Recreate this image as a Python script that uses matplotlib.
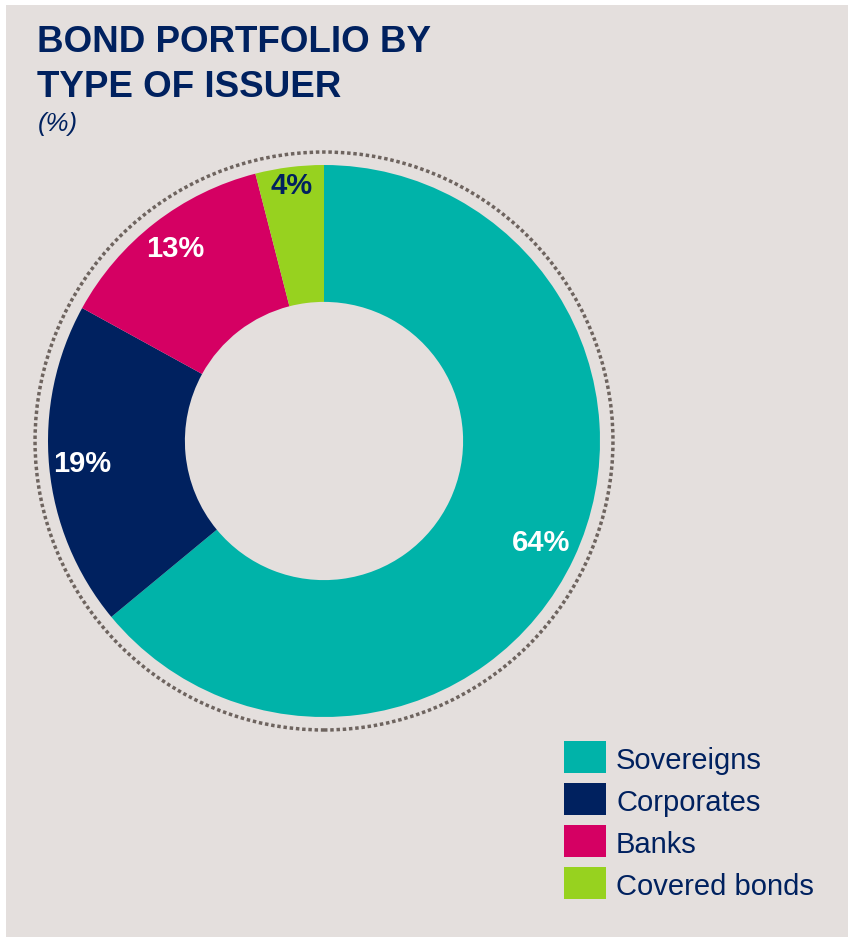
import numpy as np
import matplotlib
matplotlib.use("Agg")
import matplotlib.pyplot as plt
from matplotlib.patches import Rectangle, Circle

# Data
categories = ["Sovereigns", "Corporates", "Banks", "Covered bonds"]
shares = [64, 19, 13, 4]
colors = ["#00B3A9", "#00215F", "#D50063", "#97D21F"]
label_colors = ["white", "white", "white", "#00215F"]
label_radius = [0.87, 0.88, 0.88, 0.93]

title_lines = ["BOND PORTFOLIO BY", "TYPE OF ISSUER"]
subtitle = "(%)"

navy = "#00215F"
bg = "#E4DFDD"
W, H = 849, 939
DPI = 100

plt.rcParams["font.family"] = ["Liberation Sans", "DejaVu Sans"]

fig = plt.figure(figsize=(W / DPI, H / DPI), dpi=DPI)
fig.patch.set_facecolor("white")

# panel background
fig.patches.append(Rectangle((6 / W, 2 / H), (W - 7) / W, (H - 7) / H,
                             transform=fig.transFigure, facecolor=bg,
                             edgecolor="none", zorder=-5))

# title block
for line, base in zip(title_lines, [52, 97]):
    fig.text(37 / W, 1 - base / H, line, ha="left", va="baseline",
             fontsize=26.5, fontweight="bold", color=navy)
fig.text(38 / W, 1 - 131 / H, subtitle, ha="left", va="baseline",
         fontsize=18.5, style="italic", color=navy)

# donut
R_PX = 276
cx, cy = 324, 441
half = 1.1 * R_PX
ax = fig.add_axes([(cx - half) / W, (H - cy - half) / H, 2 * half / W, 2 * half / H])
ax.set_zorder(2)
ax.patch.set_visible(False)
ax.set_aspect("equal")
ax.axis("off")

wedges, _ = ax.pie(shares, colors=colors, startangle=90, counterclock=False,
                   radius=1.0, wedgeprops=dict(width=0.496, edgecolor="none"))
ax.set_xlim(-1.1, 1.1)
ax.set_ylim(-1.1, 1.1)

# dotted outer ring
ring = Circle((0, 0), 1.047, fill=False, edgecolor="#6E645F", linewidth=2.5,
              linestyle=(0, (1.0, 0.8)))
ring.set_capstyle("butt")
ax.add_patch(ring)

# percentage labels at the wedge mid-angles
total = sum(shares)
cum = 0
for val, col, r in zip(shares, label_colors, label_radius):
    mid = (cum + val / 2) / total * 360.0
    ang = np.deg2rad(90 - mid)
    ax.text(r * np.cos(ang), r * np.sin(ang), f"{val}%", ha="center", va="center",
            fontsize=21, fontweight="bold", color=col)
    cum += val

# legend
box_w, box_h = 42, 32
x0 = 564
y_tops = [741, 783, 825, 867]
for name, col, yt in zip(categories, colors, y_tops):
    fig.patches.append(Rectangle((x0 / W, 1 - (yt + box_h) / H), box_w / W, box_h / H,
                                 transform=fig.transFigure, facecolor=col,
                                 edgecolor="none", zorder=2))
    fig.text(616 / W, 1 - (yt + box_h / 2 + 1) / H, name, ha="left", va="center_baseline",
             fontsize=21, color=navy)

fig.savefig("out.png", dpi=DPI, facecolor=fig.get_facecolor())
